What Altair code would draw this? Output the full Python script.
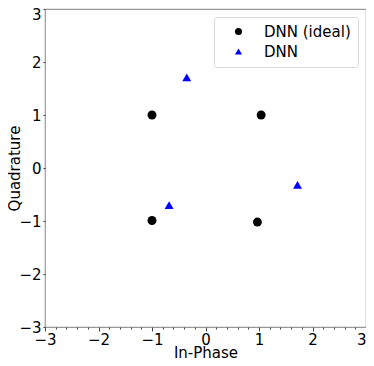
import altair as alt
import pandas as pd

ideal_i = [-1.0, 1.04, -1.0, 0.97]
ideal_q = [1.0, 1.0, -0.99, -1.02]
dnn_i = [-0.35, 1.72, -0.68]
dnn_q = [1.71, -0.32, -0.70]

x_ticks = [round(-3 + 0.2 * k, 1) for k in range(31)]
y_ticks = [-3, -2, -1, 0, 1, 2, 3]

df = pd.DataFrame({
    "I": ideal_i + dnn_i,
    "Q": ideal_q + dnn_q,
    "series": ["DNN (ideal)"] * len(ideal_i) + ["DNN"] * len(dnn_i),
})

font = "DejaVu Sans"
is_int = "abs(datum.value - round(datum.value)) < 0.001"

chart = alt.Chart(df).mark_point(filled=True, size=80, opacity=1).encode(
    x=alt.X("I:Q", title="In-Phase",
            scale=alt.Scale(domain=[-3, 3], nice=False, zero=False),
            axis=alt.Axis(values=x_ticks,
                          labelExpr=is_int + " ? format(datum.value, 'd') : ''",
                          tickSize={"condition": {"test": is_int, "value": 4}, "value": 2},
                          labelAlign={"condition": {"test": "datum.value > 2.9", "value": "right"}, "value": "center"},
                          grid=False, domain=False, labelOverlap=False,
                          tickColor="#444", labelFontSize=15, titleFontSize=15,
                          labelFont=font, titleFont=font, labelColor="black",
                          titleColor="black", titleFontWeight="normal",
                          labelPadding=1, titlePadding=-2, labelFlush=False)),
    y=alt.Y("Q:Q", title="Quadrature",
            scale=alt.Scale(domain=[-3, 3], nice=False, zero=False),
            axis=alt.Axis(values=y_ticks, format="d", grid=False, domain=False,
                          labelOverlap=False,
                          labelOffset={"condition": {"test": "datum.value == 3", "value": 5}, "value": 0},
                          tickSize=2, tickColor="#444", labelFontSize=15, titleFontSize=15,
                          labelFont=font, titleFont=font, labelColor="black",
                          titleColor="black", titleFontWeight="normal",
                          titleX=-26, titleBaseline="alphabetic",
                          labelPadding=2, labelFlush=False)),
    color=alt.Color("series:N",
                    scale=alt.Scale(domain=["DNN (ideal)", "DNN"], range=["black", "#0000ff"]),
                    legend=alt.Legend(title=None, orient="top-right", offset=8,
                                      fillColor="white", strokeColor="#d8d8d8",
                                      cornerRadius=3, padding=7,
                                      labelFont=font, labelFontSize=15, labelColor="black",
                                      symbolSize=50, rowPadding=4, labelOffset=18,
                                      symbolOffset=10)),
    shape=alt.Shape("series:N",
                    scale=alt.Scale(domain=["DNN (ideal)", "DNN"], range=["circle", "triangle-up"]),
                    legend=alt.Legend(title=None)),
).properties(
    width=321, height=318,
    autosize=alt.AutoSizeParams(type="none"),
    padding={"left": 37, "top": 1, "right": 0, "bottom": 31},
).configure_view(stroke="#999999", strokeWidth=1.2)

chart.save("out.html", embed_options={"renderer": "svg", "actions": False})
